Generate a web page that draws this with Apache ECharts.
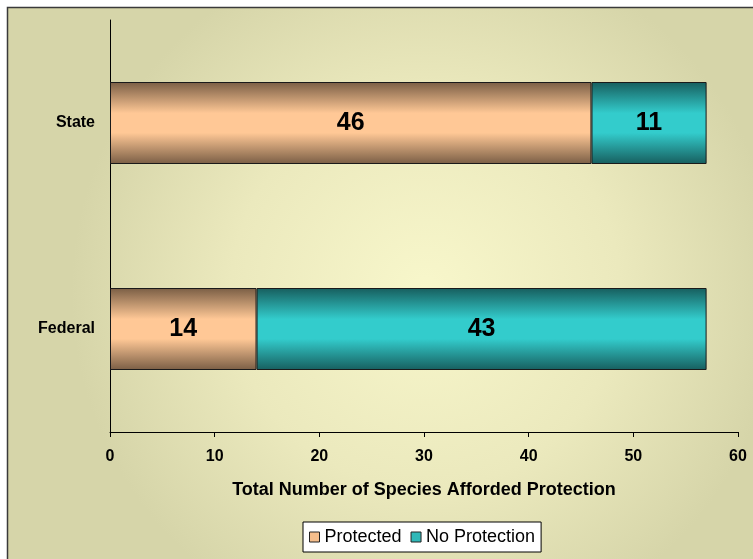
<!DOCTYPE html>
<html>
<head>
<meta charset="utf-8">
<script src="https://cdn.jsdelivr.net/npm/echarts@6/dist/echarts.min.js"></script>
<style>
  html, body { margin: 0; padding: 0; background: #fff; }
  #chart { width: 753px; height: 559px; }
</style>
</head>
<body>
<div id="chart"></div>
<script>
// Jurisdictions on the category axis (bottom to top)
var categories = ['Federal', 'State'];
// Species counts per jurisdiction
var protectedCounts = [14, 46];
var noProtectionCounts = [43, 11];
// Horizontal axis scale
var axisMin = 0;
var axisMax = 60;
var axisStep = 10;

var FONT = '"Liberation Sans", Arial, sans-serif';

function barGradient(edge, mid) {
  return new echarts.graphic.LinearGradient(0, 0, 0, 1, [
    { offset: 0, color: edge },
    { offset: 0.38, color: mid },
    { offset: 0.62, color: mid },
    { offset: 1, color: edge }
  ]);
}

var chart = echarts.init(document.getElementById('chart'), null, { renderer: 'canvas' });

var valueLabel = {
  show: true,
  position: 'inside',
  formatter: '{c}',
  color: '#000',
  fontFamily: FONT,
  fontWeight: 'bold',
  fontSize: 25
};

chart.setOption({
  backgroundColor: '#ffffff',
  animation: false,
  graphic: [{
    type: 'rect',
    z: -10,
    silent: true,
    shape: { x: 7.5, y: 7.5, width: 760, height: 570 },
    style: {
      fill: new echarts.graphic.RadialGradient(0.55, 0.5, 0.62, [
        { offset: 0, color: '#f8f7cb' },
        { offset: 0.55, color: '#ebe9bd' },
        { offset: 1, color: '#d6d5a9' }
      ]),
      stroke: '#3a3a3a',
      lineWidth: 1.5
    }
  }],
  grid: { left: 110, right: 15, top: 20, bottom: 127 },
  legend: {
    left: 303,
    top: 522,
    data: [
      { name: 'Protected', itemStyle: { color: '#f5be8c', borderColor: '#222', borderWidth: 1 } },
      { name: 'No Protection', itemStyle: { color: '#2fb8b8', borderColor: '#222', borderWidth: 1 } }
    ],
    icon: 'rect',
    itemWidth: 10,
    itemHeight: 10,
    itemGap: 9,
    padding: [6, 6, 6, 6],
    backgroundColor: '#ffffff',
    borderColor: '#000',
    borderWidth: 1,
    textStyle: { fontFamily: FONT, fontSize: 18, color: '#000' }
  },
  xAxis: {
    type: 'value',
    min: axisMin,
    max: axisMax,
    interval: axisStep,
    name: 'Total Number of Species Afforded Protection',
    nameLocation: 'middle',
    nameGap: 49,
    nameTextStyle: { fontFamily: FONT, fontWeight: 'bold', fontSize: 18, color: '#000' },
    axisLine: { show: true, lineStyle: { color: '#000', width: 1 } },
    axisTick: { show: true, length: 5, lineStyle: { color: '#000' } },
    axisLabel: { fontFamily: FONT, fontWeight: 'bold', fontSize: 16, color: '#000', margin: 17 },
    splitLine: { show: false }
  },
  yAxis: {
    type: 'category',
    data: categories,
    axisLine: { show: true, lineStyle: { color: '#000', width: 1 } },
    axisTick: { show: false },
    axisLabel: { fontFamily: FONT, fontWeight: 'bold', fontSize: 16, color: '#000', margin: 15 }
  },
  series: [
    {
      name: 'Protected',
      type: 'bar',
      stack: 'total',
      barWidth: 82,
      data: protectedCounts,
      label: valueLabel,
      itemStyle: {
        color: barGradient('#7a5e45', '#ffc896'),
        borderColor: '#1a1a1a',
        borderWidth: 1
      }
    },
    {
      name: 'No Protection',
      type: 'bar',
      stack: 'total',
      barWidth: 82,
      data: noProtectionCounts,
      label: valueLabel,
      itemStyle: {
        color: barGradient('#175e5e', '#33cccc'),
        borderColor: '#1a1a1a',
        borderWidth: 1
      }
    }
  ]
});
</script>
</body>
</html>
